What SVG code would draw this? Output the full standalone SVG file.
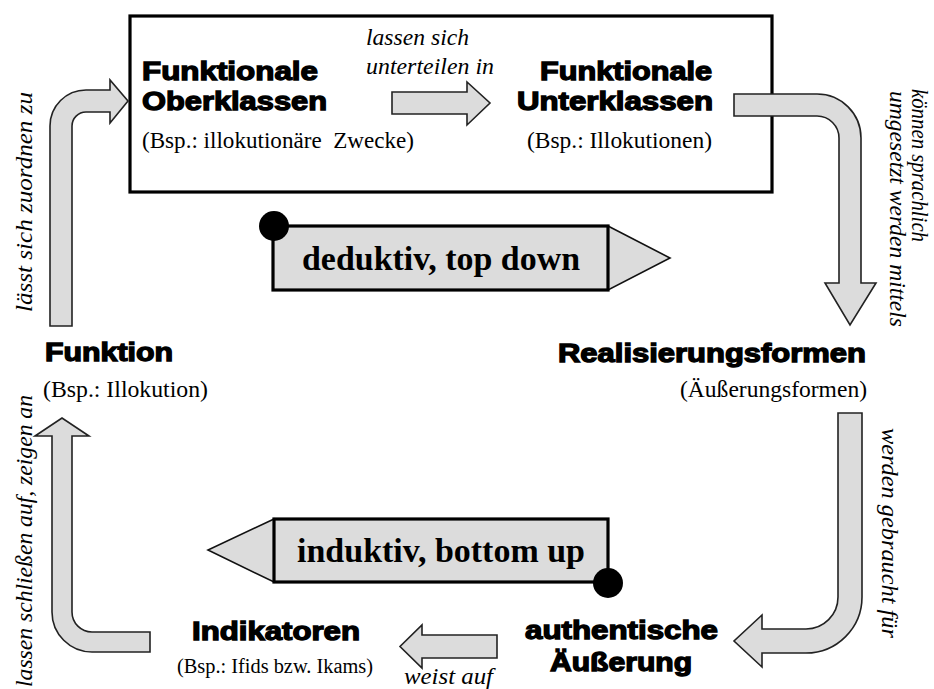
<svg xmlns="http://www.w3.org/2000/svg" width="934" height="689" viewBox="0 0 934 689">
<style>
.h{font-family:"Liberation Sans",Arial,sans-serif;font-weight:bold;font-size:25.5px;fill:#000;stroke:#000;stroke-width:1.3px}
.r{font-family:"Liberation Serif","Times New Roman",serif;font-size:23px;fill:#000}
.i{font-family:"Liberation Serif","Times New Roman",serif;font-style:italic;font-size:23px;fill:#000}
.v{font-size:24px}
.b{font-family:"Liberation Serif","Times New Roman",serif;font-weight:bold;font-size:34px;fill:#000}
.arr{fill:#dcdcdc;stroke:#222;stroke-width:1.6;stroke-linejoin:miter}
.tag{fill:#dcdcdc;stroke:#000;stroke-width:3.2}
.tri{fill:#dcdcdc;stroke:#111;stroke-width:1.6}
</style>
<rect width="934" height="689" fill="#fff"/>

<g id="klassen-box">
<rect x="130" y="16" width="642" height="176" fill="#fff" stroke="#000" stroke-width="3.2"/>
</g>

<g id="oberklassen">
<text class="h" x="142" y="80" textLength="176" lengthAdjust="spacingAndGlyphs">Funktionale</text>
<text class="h" x="142" y="110" textLength="185" lengthAdjust="spacingAndGlyphs">Oberklassen</text>
<text class="r" x="142" y="148" textLength="272" lengthAdjust="spacingAndGlyphs" xml:space="preserve">(Bsp.: illokutionäre  Zwecke)</text>
</g>

<g id="unterklassen">
<text class="h" x="540" y="80" textLength="172" lengthAdjust="spacingAndGlyphs">Funktionale</text>
<text class="h" x="517" y="110" textLength="196" lengthAdjust="spacingAndGlyphs">Unterklassen</text>
<text class="r" x="527" y="148" textLength="185" lengthAdjust="spacingAndGlyphs">(Bsp.: Illokutionen)</text>
</g>

<g id="funktion">
<text class="h" x="45" y="361" textLength="128" lengthAdjust="spacingAndGlyphs">Funktion</text>
<text class="r" x="43" y="397" textLength="165" lengthAdjust="spacingAndGlyphs">(Bsp.: Illokution)</text>
</g>

<g id="realisierungsformen">
<text class="h" x="558" y="362" textLength="308" lengthAdjust="spacingAndGlyphs">Realisierungsformen</text>
<text class="r" x="680" y="397" textLength="187" lengthAdjust="spacingAndGlyphs">(Äußerungsformen)</text>
</g>

<g id="indikatoren">
<text class="h" x="192" y="640" textLength="168" lengthAdjust="spacingAndGlyphs">Indikatoren</text>
<text class="r" x="177" y="673" style="font-size:20px" textLength="196" lengthAdjust="spacingAndGlyphs">(Bsp.: Ifids bzw. Ikams)</text>
</g>

<g id="aeusserung">
<text class="h" x="525" y="639" textLength="193" lengthAdjust="spacingAndGlyphs">authentische</text>
<text class="h" x="550" y="671" textLength="142" lengthAdjust="spacingAndGlyphs">Äußerung</text>
</g>

<g id="deduktiv">
<polygon class="tri" points="608,226 670,258 608,290"/>
<rect class="tag" x="273" y="226" width="335" height="64"/>
<circle cx="274" cy="226" r="15" fill="#000"/>
<text class="b" x="302" y="270" textLength="278" lengthAdjust="spacingAndGlyphs">deduktiv, top down</text>
</g>

<g id="induktiv">
<polygon class="tri" points="274,519 208,550 274,582"/>
<rect class="tag" x="274" y="519" width="334" height="63"/>
<circle cx="608" cy="583" r="15" fill="#000"/>
<text class="b" x="297" y="562" textLength="288" lengthAdjust="spacingAndGlyphs">induktiv, bottom up</text>
</g>

<g id="connectors">
<path class="arr" d="M 50 326 L 50 126 A 36 36 0 0 1 86 90 L 110 90 L 110 80 L 128 101 L 110 123 L 110 112 L 86 112 A 14 14 0 0 0 72 126 L 72 326 Z"/>
<path class="arr" d="M 392 92 L 467 92 L 467 82 L 490 103 L 467 125 L 467 114 L 392 114 Z"/>
<path class="arr" d="M 734 94 L 817 94 A 44 44 0 0 1 861 138 L 861 283 L 876 283 L 850 325 L 825 283 L 839 283 L 839 138 A 22 22 0 0 0 817 116 L 734 116 Z"/>
<path class="arr" d="M 838 413 L 862 413 L 862 597 A 56 56 0 0 1 806 653 L 762 653 L 762 667 L 734 641 L 762 615 L 762 629 L 806 629 A 32 32 0 0 0 838 597 Z"/>
<path class="arr" d="M 497 635 L 422 635 L 422 625 L 400 646.5 L 422 668 L 422 658 L 497 658 Z"/>
<path class="arr" d="M 150 632 L 150 652 L 92 652 A 40 40 0 0 1 52 612 L 52 436 L 35 436 L 62 418 L 89 436 L 72 436 L 72 612 A 20 20 0 0 0 92 632 Z"/>
<text class="i" x="366" y="45" textLength="103" lengthAdjust="spacingAndGlyphs">lassen sich</text>
<text class="i" x="366" y="74" textLength="128" lengthAdjust="spacingAndGlyphs">unterteilen in</text>
<text class="i v" transform="translate(912,89) rotate(90)" textLength="153" lengthAdjust="spacingAndGlyphs">können sprachlich</text>
<text class="i v" transform="translate(890,91) rotate(90)" textLength="236" lengthAdjust="spacingAndGlyphs">umgesetzt werden mittels</text>
<text class="i v" transform="translate(882,428) rotate(90)" textLength="210" lengthAdjust="spacingAndGlyphs">werden gebraucht für</text>
<text class="i v" transform="translate(32,312) rotate(-90)" textLength="220" lengthAdjust="spacingAndGlyphs">lässt sich zuordnen zu</text>
<text class="i v" transform="translate(32,687) rotate(-90)" textLength="292" lengthAdjust="spacingAndGlyphs">lassen schließen auf, zeigen an</text>
<text class="i" x="404" y="684" textLength="89" lengthAdjust="spacingAndGlyphs">weist auf</text>
</g>
</svg>
